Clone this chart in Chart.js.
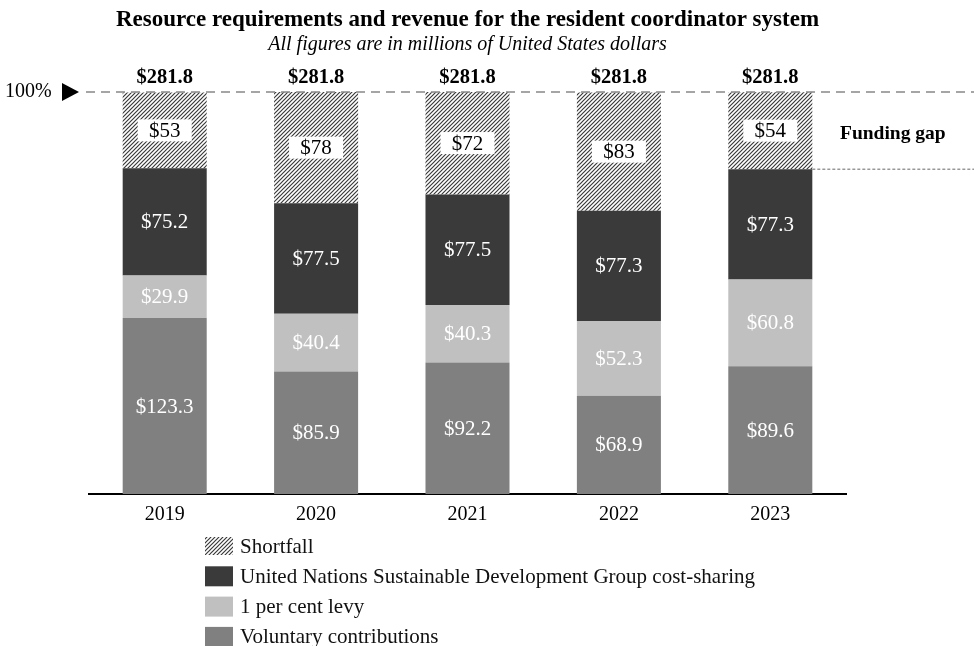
<!DOCTYPE html>
<html>
<head>
<meta charset="utf-8">
<script src="https://cdn.jsdelivr.net/npm/chart.js@4.4.1/dist/chart.umd.min.js"></script>
<style>
  html, body { margin: 0; padding: 0; background: #fff; }
  .vis-container { width: 974px; height: 646px; position: relative; }
</style>
</head>
<body>
<div class="vis-container"><canvas id="vis"></canvas></div>
<script>

// millions of US dollars
const years = ['2019', '2020', '2021', '2022', '2023'];
const voluntary = [123.3, 85.9, 92.2, 68.9, 89.6];
const levy = [29.9, 40.4, 40.3, 52.3, 60.8];
const costSharing = [75.2, 77.5, 77.5, 77.3, 77.3];
const shortfall = [53, 78, 72, 83, 54];
const totals = [281.8, 281.8, 281.8, 281.8, 281.8];

const seriesNames = [
    'Shortfall',
    'United Nations Sustainable Development Group cost-sharing',
    '1 per cent levy',
    'Voluntary contributions'
];

const serif = '"Liberation Serif", "Times New Roman", serif';

function hatch() {
    const s = 4;
    const c = document.createElement('canvas');
    c.width = s; c.height = s;
    const g = c.getContext('2d');
    g.fillStyle = '#fff';
    g.fillRect(0, 0, s, s);
    g.strokeStyle = '#3a3a3a';
    g.lineWidth = 1.2;
    g.beginPath();
    g.moveTo(-1, s + 1); g.lineTo(s + 1, -1);
    g.moveTo(-1, 1); g.lineTo(1, -1);
    g.moveTo(s - 1, s + 1); g.lineTo(s + 1, s - 1);
    g.stroke();
    return g.createPattern(c, 'repeat');
}

const ctx = document.getElementById('vis').getContext('2d');
const hatchFill = hatch();

const colors = {
    voluntary: '#808080',
    levy: '#c0c0c0',
    cost: '#3a3a3a'
};

// labels, title, reference lines and legend drawn on top of the bars
const decorations = {
    id: 'decorations',
    afterDatasetsDraw(chart) {
        const g = chart.ctx;
        const area = chart.chartArea;
        const y = chart.scales.y;
        const x = chart.scales.x;

        g.save();

        // title
        const cx = (area.left + area.right) / 2;
        g.textAlign = 'center';
        g.textBaseline = 'middle';
        g.fillStyle = '#000';
        g.font = 'bold 23px ' + serif;
        g.fillText('Resource requirements and revenue for the resident coordinator system', cx, 20);
        g.font = 'italic 20px ' + serif;
        g.fillText('All figures are in millions of United States dollars', cx, 45);

        // 100% line
        const yTop = y.getPixelForValue(totals[0]);
        g.strokeStyle = '#888';
        g.lineWidth = 1.5;
        g.setLineDash([9, 6]);
        g.beginPath();
        g.moveTo(86, yTop);
        g.lineTo(974, yTop);
        g.stroke();
        g.setLineDash([]);

        g.fillStyle = '#000';
        g.beginPath();
        g.moveTo(62, yTop - 9);
        g.lineTo(79, yTop);
        g.lineTo(62, yTop + 9);
        g.closePath();
        g.fill();
        g.font = '20px ' + serif;
        g.textAlign = 'left';
        g.fillText('100%', 5, yTop);

        // segment values
        const sets = [
            { data: voluntary, idx: 0, color: '#fff', fmt: v => '$' + v.toFixed(1) },
            { data: levy, idx: 1, color: '#fff', fmt: v => '$' + v.toFixed(1) },
            { data: costSharing, idx: 2, color: '#fff', fmt: v => '$' + v.toFixed(1) },
            { data: shortfall, idx: 3, color: '#000', fmt: v => '$' + v, box: true }
        ];
        g.textAlign = 'center';
        g.font = '21px ' + serif;
        sets.forEach(s => {
            const meta = chart.getDatasetMeta(s.idx);
            meta.data.forEach((bar, i) => {
                const my = (bar.y + bar.base) / 2;
                if (s.box) {
                    g.fillStyle = '#fff';
                    g.fillRect(bar.x - 27, my - 11, 54, 22);
                }
                g.fillStyle = s.color;
                g.fillText(s.fmt(s.data[i]), bar.x, my + 1);
            });
        });

        // totals
        g.font = 'bold 20.5px ' + serif;
        g.fillStyle = '#000';
        totals.forEach((t, i) => {
            g.fillText('$' + t.toFixed(1), x.getPixelForValue(i), yTop - 14);
        });

        // funding gap marker
        const last = chart.getDatasetMeta(2).data[years.length - 1];
        g.font = 'bold 19.5px ' + serif;
        g.textAlign = 'left';
        g.fillText('Funding gap', 840, 134);
        g.strokeStyle = '#666';
        g.lineWidth = 1;
        g.setLineDash([3, 2]);
        g.beginPath();
        g.moveTo(last.x + last.width / 2, last.y);
        g.lineTo(974, last.y);
        g.stroke();
        g.setLineDash([]);

        // legend
        const fills = [hatchFill, colors.cost, colors.levy, colors.voluntary];
        g.font = '21px ' + serif;
        g.textAlign = 'left';
        seriesNames.forEach((name, i) => {
            const ly = 546 + i * 30.3;
            g.fillStyle = fills[i];
            if (i === 0) g.fillRect(205, ly - 9, 28, 18);
            else g.fillRect(205, ly - 10, 28, 20);
            g.fillStyle = '#111';
            g.fillText(name, 240, ly + 1);
        });

        g.restore();
    }
};

const chart = new Chart(ctx, {
    type: 'bar',
    data: {
        labels: years,
        datasets: [
            { label: 'Voluntary contributions', data: voluntary, backgroundColor: colors.voluntary },
            { label: '1 per cent levy', data: levy, backgroundColor: colors.levy },
            { label: 'United Nations Sustainable Development Group cost-sharing', data: costSharing, backgroundColor: colors.cost },
            { label: 'Shortfall', data: shortfall, backgroundColor: hatchFill }
        ]
    },
    options: {
        responsive: true,
        maintainAspectRatio: false,
        animation: false,
        layout: { padding: { left: 89, right: 128, top: 92, bottom: 118 } },
        datasets: { bar: { barPercentage: 0.555, categoryPercentage: 1, borderWidth: 0 } },
        plugins: {
            legend: { display: false },
            tooltip: { enabled: false }
        },
        scales: {
            x: {
                stacked: true,
                grid: { display: false },
                border: { color: '#000', width: 2 },
                ticks: { color: '#000', font: { family: serif, size: 20 }, padding: 1 }
            },
            y: {
                stacked: true,
                display: false,
                min: 0,
                max: 281.8
            }
        }
    },
    plugins: [decorations]
});

</script>
</body>
</html>
